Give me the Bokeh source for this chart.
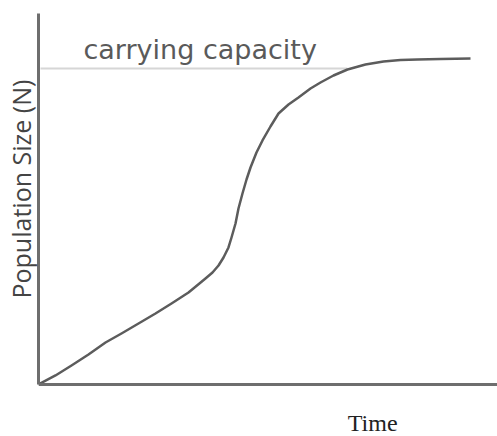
from bokeh.plotting import figure
from bokeh.models import Range1d, Label, FixedTicker, Title
from bokeh.embed import file_html
from bokeh.resources import INLINE

# Data (arbitrary units 0-100)
time = [0.00, 3.70, 7.19, 10.89, 14.60, 18.08, 21.79, 25.49, 28.98, 32.68,
        36.38, 37.91, 39.22, 40.31, 41.39, 42.05, 42.92, 43.57, 44.44, 45.32,
        46.19, 47.49, 48.80, 50.54, 52.29, 54.47, 56.64, 59.26, 61.44, 64.27,
        67.32, 71.24, 75.16, 78.87, 82.57, 87.58, 94.12]
population = [0.00, 2.43, 5.12, 8.09, 11.32, 13.75, 16.44, 19.14, 21.83, 24.80,
              28.57, 30.19, 32.08, 34.23, 36.93, 39.62, 43.40, 47.44, 51.48, 55.26,
              58.49, 62.53, 65.77, 69.54, 73.05, 75.47, 77.36, 79.78, 81.40, 83.29,
              84.91, 86.25, 87.06, 87.47, 87.60, 87.74, 87.87]
capacity_x = [0.44, 67.3]
capacity_y = [85.18, 85.18]
capacity_label = "carrying capacity"
x_label = "Time"
y_label = "Population Size (N)"

# y range extends below 0 to leave room for the "Time" label under the x axis
p = figure(width=497, height=436, output_backend="svg", toolbar_location=None,
           title=None,
           x_range=Range1d(0, 100), y_range=Range1d(-14.02, 100),
           min_border_left=38, min_border_right=0, min_border_top=13,
           min_border_bottom=0)
p.outline_line_color = None
p.grid.visible = False
p.background_fill_color = "white"
p.border_fill_color = "white"

for ax in (p.xaxis[0], p.yaxis[0]):
    ax.ticker = FixedTicker(ticks=[])
    ax.major_tick_line_color = None
    ax.minor_tick_line_color = None
    ax.major_tick_out = 0
    ax.minor_tick_out = 0
    ax.major_tick_in = 0
    ax.minor_tick_in = 0
    ax.major_label_standoff = 0
    ax.axis_label_standoff = 0
    ax.major_label_text_font_size = "0px"
    ax.axis_line_color = "#6e6e6e"
    ax.axis_line_width = 3

p.xaxis[0].fixed_location = 0
p.yaxis[0].bounds = (0, 100)

p.line(capacity_x, capacity_y, line_color="#d6d6d6", line_width=2)
p.line(time, population, line_color="#5c5c5c", line_width=2.5, line_join="round")

p.add_layout(Label(x=9.8, y=90.4, text=capacity_label, text_font="DejaVu Sans",
                   text_font_size="27px", text_color="#5a5a5a",
                   text_baseline="alphabetic", text_align="left"))
p.add_layout(Label(x=72.8, y=-10.4, text=x_label, text_font="Liberation Serif",
                   text_font_size="24px", text_color="#222222",
                   text_baseline="alphabetic", text_align="center"))

p.add_layout(Title(text=y_label, align="left", offset=138, standoff=2,
                   text_font="Open Sans", text_font_size="25px",
                   text_font_style="normal", text_color="#444444"), "left")

open("out.html", "w").write(file_html(p, INLINE))
